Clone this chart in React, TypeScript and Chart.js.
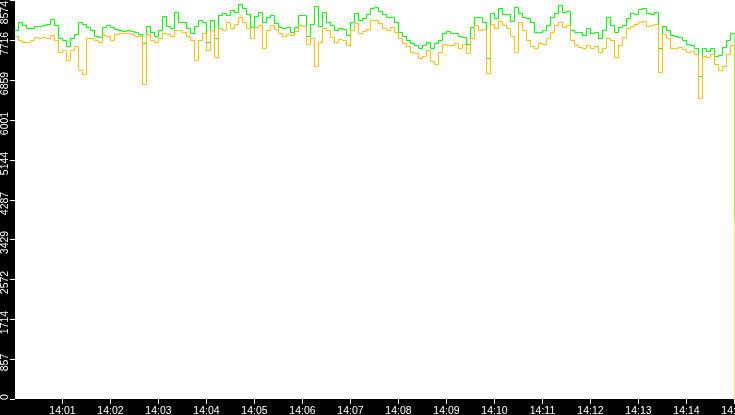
import { useEffect, useRef } from "react";
import { Chart, registerables } from "chart.js";

Chart.register(...registerables);

// both series are sampled every 5 s, starting 14:00:00
const SAMPLE_SEC = 5;

const greenValues = [
  7929, 8101, 8037, 7972, 7972, 8015, 8015, 8037, 8058, 8166,
  8037, 7757, 7714, 7586, 7757, 7843, 8101, 8058, 7994, 7929,
  7800, 7779, 7994, 8037, 7994, 7951, 7929, 7908, 7929, 7908,
  7886, 7843, 7650, 8015, 7886, 7800, 7929, 8230, 8015, 7972,
  8316, 8101, 8101, 7972, 7865, 8015, 8144, 8101, 7671, 8144,
  7757, 8252, 8295, 8252, 8359, 8316, 8488, 8402, 8273, 7994,
  8230, 8316, 8101, 8209, 8252, 8080, 7994, 7972, 7994, 7886,
  7994, 8252, 8252, 7800, 8058, 8445, 8015, 8316, 8101, 8037,
  7929, 7972, 7951, 7822, 8101, 8295, 8144, 8187, 8273, 8402,
  8424, 8338, 8273, 8209, 8209, 8101, 7886, 7800, 7714, 7650,
  7607, 7543, 7607, 7671, 7543, 7650, 7714, 7865, 7908, 7865,
  7865, 7800, 7779, 7628, 7994, 8209, 8209, 8101, 7328, 8295,
  8187, 8402, 8273, 8273, 8123, 8424, 8295, 8209, 8187, 8101,
  7886, 7886, 7929, 8037, 8209, 8295, 8467, 8316, 8338, 7929,
  7886, 7886, 7822, 7972, 7865, 7886, 7757, 7929, 8209, 8037,
  7886, 7994, 8037, 8187, 8295, 8273, 8381, 8402, 8295, 8273,
  8316, 7543, 8015, 7929, 7822, 7800, 7779, 7714, 7628, 7607,
  7543, 6941, 7543, 7478, 7543, 7371, 7392, 7564, 7714, 7865,
  3846,
];

const yellowValues = [
  7800, 7714, 7671, 7671, 7714, 7779, 7757, 7779, 7757, 7822,
  7714, 7457, 7500, 7285, 7500, 7586, 7070, 6984, 7757, 7757,
  7714, 7671, 7822, 7800, 7714, 7843, 7865, 7865, 7865, 7843,
  7800, 7800, 6769, 7843, 7714, 7671, 7757, 7865, 7843, 7800,
  7929, 7929, 7886, 7800, 7714, 7285, 7714, 7865, 7500, 7929,
  7349, 7972, 7929, 8101, 7972, 8058, 8209, 8101, 7972, 7757,
  7994, 8037, 7543, 7929, 8037, 7951, 7865, 7800, 7843, 7822,
  7908, 8037, 8015, 7628, 7757, 7156, 7671, 7972, 7929, 7779,
  7671, 7736, 7714, 7607, 7929, 8080, 7865, 7908, 7951, 8144,
  8144, 8080, 7972, 7929, 7994, 7886, 7757, 7650, 7586, 7457,
  7435, 7328, 7371, 7500, 7263, 7199, 7457, 7628, 7607, 7607,
  7650, 7543, 7628, 7435, 7757, 8037, 7929, 7951, 7005, 8058,
  7972, 8123, 8037, 7972, 7800, 7457, 8101, 7929, 7714, 7586,
  7543, 7650, 7628, 7757, 7886, 8037, 8101, 7994, 8037, 7714,
  7607, 7564, 7543, 7607, 7543, 7586, 7457, 7543, 7757, 7714,
  7349, 7607, 7779, 7972, 8015, 8058, 8101, 8123, 8015, 8037,
  8058, 7027, 7843, 7757, 7543, 7543, 7564, 7521, 7457, 7478,
  7414, 6468, 7371, 7349, 7414, 7199, 7070, 7156, 7414, 7607,
  0,
];

const yTicks = [0, 857, 1714, 2572, 3429, 4287, 5144, 6001, 6859, 7716, 8574];
const xTickSeconds = [60, 120, 180, 240, 300, 360, 420, 480, 540, 600, 660, 720, 780, 840, 900];
const xTickLabels = [
  "14:01", "14:02", "14:03", "14:04", "14:05", "14:06", "14:07", "14:08",
  "14:09", "14:10", "14:11", "14:12", "14:13", "14:14", "14:15",
];

const FONT = '10.5px "Liberation Sans", Arial, sans-serif';

// black frame, white plot area, and the little white tick marks + labels
const framePlugin = {
  id: "frame",
  beforeDraw(chart: any) {
    const { ctx, chartArea, width, height } = chart;
    ctx.save();
    ctx.fillStyle = "#000";
    ctx.fillRect(0, 0, width, height);
    ctx.fillStyle = "#fff";
    const left = Math.ceil(chartArea.left);
    ctx.fillRect(left, 0, width - left, Math.floor(chartArea.bottom));
    ctx.restore();
  },
  afterDraw(chart: any) {
    const { ctx, scales, chartArea } = chart;
    const xs = scales.x;
    const ys = scales.y;
    const bottom = Math.floor(chartArea.bottom);
    ctx.save();
    ctx.strokeStyle = "#fff";
    ctx.fillStyle = "#fff";
    ctx.lineWidth = 1;
    ctx.font = FONT;

    yTicks.forEach((v) => {
      const py = Math.floor(ys.getPixelForValue(v)) + 0.5;
      ctx.beginPath();
      ctx.moveTo(10, py);
      ctx.lineTo(15, py);
      ctx.stroke();

      const label = String(v);
      const half = ctx.measureText(label).width / 2;
      const cy = Math.min(Math.max(py + 3, 1 + half), bottom + 1 - half);
      ctx.save();
      ctx.translate(5.5, cy);
      ctx.rotate(-Math.PI / 2);
      ctx.textAlign = "center";
      ctx.textBaseline = "middle";
      ctx.fillText(label, 0, 0);
      ctx.restore();
    });

    xTickSeconds.forEach((s, i) => {
      const px = Math.floor(xs.getPixelForValue(s)) + 0.5;
      ctx.beginPath();
      ctx.moveTo(px, bottom);
      ctx.lineTo(px, bottom + 5);
      ctx.stroke();
      ctx.textAlign = "center";
      ctx.textBaseline = "alphabetic";
      ctx.fillText(xTickLabels[i], px, bottom + 15);
    });
    ctx.restore();
  },
};

function RateChart() {
  const canvasRef = useRef<HTMLCanvasElement | null>(null);

  useEffect(() => {
    if (!canvasRef.current) return;
    const toPoints = (vals: number[]) => vals.map((v, i) => ({ x: i * SAMPLE_SEC, y: v }));

    const chart = new Chart(canvasRef.current, {
      type: "line",
      data: {
        datasets: [
          {
            data: toPoints(yellowValues),
            borderColor: "#ffc000",
            borderWidth: 1,
            pointRadius: 0,
            stepped: true,
            fill: false,
          },
          {
            data: toPoints(greenValues),
            borderColor: "#00ff00",
            borderWidth: 1,
            pointRadius: 0,
            stepped: true,
            fill: false,
          },
        ],
      },
      options: {
        responsive: false,
        animation: false,
        events: [],
        layout: { padding: { left: 14.5, right: 0.5, top: 0.5, bottom: 15.5 } },
        plugins: {
          legend: { display: false },
          tooltip: { enabled: false },
        },
        scales: {
          x: { type: "linear", min: 0, max: 900, display: false },
          y: { type: "linear", min: 0, max: 8574, display: false },
        },
      },
      plugins: [framePlugin],
    });

    return () => chart.destroy();
  }, []);

  return <canvas ref={canvasRef} width={735} height={415} style={{ display: "block" }} />;
}

export default function App() {
  useEffect(() => {
    document.body.style.margin = "0";
  }, []);
  return <RateChart />;
}
